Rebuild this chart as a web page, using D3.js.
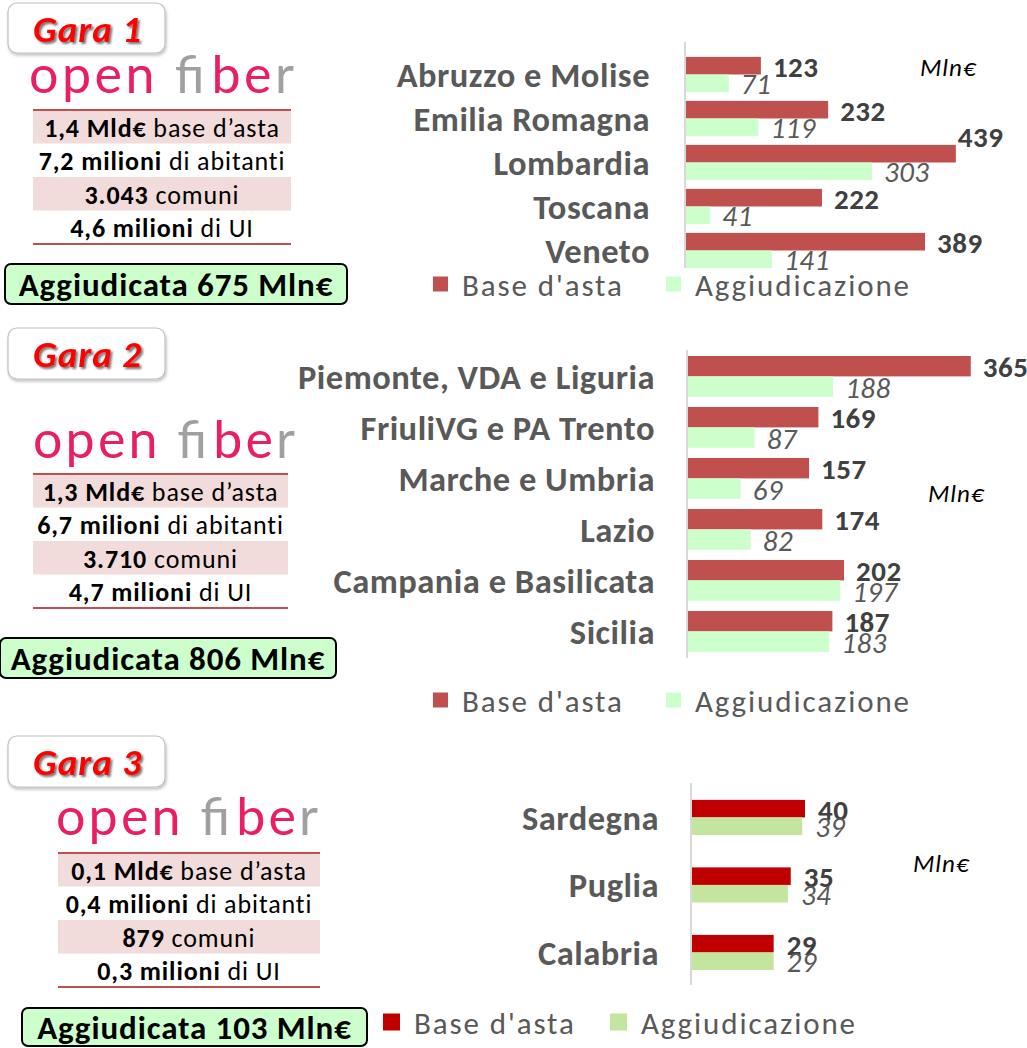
<!DOCTYPE html>
<html><head><meta charset="utf-8">
<script src="https://cdn.jsdelivr.net/npm/d3@7"></script>
<style>
html,body{margin:0;padding:0;background:#fff;}
svg{display:block;font-family:Carlito,Lato,"Noto Sans",sans-serif;}
</style></head>
<body><svg id="c" width="1027" height="1048"></svg>
<script>
// ---------- DATA ----------
const seriesNames = ["Base d'asta", "Aggiudicazione"];
const unitLabel = "Mln€";

const gara1Categories = ["Abruzzo e Molise", "Emilia Romagna", "Lombardia", "Toscana", "Veneto"];
const gara1Base = [123, 232, 439, 222, 389];
const gara1Agg = [71, 119, 303, 41, 141];

const gara2Categories = ["Piemonte, VDA e Liguria", "FriuliVG e PA Trento", "Marche e Umbria", "Lazio", "Campania e Basilicata", "Sicilia"];
const gara2Base = [365, 169, 157, 174, 202, 187];
const gara2Agg = [188, 87, 69, 82, 197, 183];

const gara3Categories = ["Sardegna", "Puglia", "Calabria"];
const gara3Base = [40, 35, 29];
const gara3Agg = [39, 34, 29];

const garaTitles = ["Gara 1", "Gara 2", "Gara 3"];
const gara1Info = [["1,4 Mld€", " base d’asta"], ["7,2 milioni", " di abitanti"], ["3.043", " comuni"], ["4,6 milioni", " di UI"]];
const gara2Info = [["1,3 Mld€", " base d’asta"], ["6,7 milioni", " di abitanti"], ["3.710", " comuni"], ["4,7 milioni", " di UI"]];
const gara3Info = [["0,1 Mld€", " base d’asta"], ["0,4 milioni", " di abitanti"], ["879", " comuni"], ["0,3 milioni", " di UI"]];
const awardedTexts = ["Aggiudicata 675 Mln€", "Aggiudicata 806 Mln€", "Aggiudicata 103 Mln€"];

// ---------- DRAW ----------
const svg = d3.select("#c");
const defs = svg.append("defs");
const f = defs.append("filter").attr("id", "tshadow").attr("x", "-20%").attr("y", "-20%").attr("width", "150%").attr("height", "150%");
f.append("feDropShadow").attr("dx", 2).attr("dy", 2).attr("stdDeviation", 1.2).attr("flood-color", "#000").attr("flood-opacity", 0.55);
const fb = defs.append("filter").attr("id", "bshadow").attr("x", "-10%").attr("y", "-10%").attr("width", "130%").attr("height", "140%");
fb.append("feDropShadow").attr("dx", 1).attr("dy", 2).attr("stdDeviation", 1.5).attr("flood-color", "#000").attr("flood-opacity", 0.25);

function garaBox(x, y, w, h, title) {
  svg.append("rect").attr("x", x).attr("y", y).attr("width", w).attr("height", h)
    .attr("rx", 9).attr("fill", "#fff").attr("stroke", "#bfbfbf").attr("stroke-width", 1.2)
    .attr("filter", "url(#bshadow)");
  svg.append("text").attr("x", x + w / 2 + 1).attr("y", y + h / 2 + 1)
    .attr("text-anchor", "middle").attr("dominant-baseline", "central")
    .attr("font-size", 37).attr("font-weight", 700).attr("font-style", "italic").attr("letter-spacing", 1)
    .attr("fill", "#ff0000").attr("filter", "url(#tshadow)").text(title);
}

function logo(x, y, w) {
  const pink = "#ea1e63", gray = "#a0a0a0";
  const parts = [["o", pink], ["p", pink], ["e", pink], ["n", pink], ["\u00a0", pink], ["f", gray], ["i", gray], ["b", pink], ["e", pink], ["r", gray]];
  const t = svg.append("text").attr("x", x).attr("y", y)
    .attr("font-family", "Lato, 'Open Sans', sans-serif").attr("font-weight", 400)
    .attr("font-size", 52).attr("textLength", w).attr("lengthAdjust", "spacing");
  parts.forEach(p => t.append("tspan").attr("fill", p[1]).text(p[0]));
}

function infoTable(x, y, w, rowH, rows) {
  rows.forEach((r, i) => {
    const ry = y + i * rowH;
    if (i % 2 === 0) svg.append("rect").attr("x", x).attr("y", ry).attr("width", w).attr("height", rowH).attr("fill", "#f2dcdb");
    const t = svg.append("text").attr("x", x + w / 2).attr("y", ry + rowH / 2 + 1)
      .attr("text-anchor", "middle").attr("dominant-baseline", "central")
      .attr("font-size", 26).attr("letter-spacing", 0.9).attr("fill", "#000");
    t.append("tspan").attr("font-weight", 700).text(r[0]);
    t.append("tspan").text(r[1]);
  });
  [y, y + rows.length * rowH].forEach(ly => svg.append("line").attr("x1", x).attr("x2", x + w)
    .attr("y1", ly).attr("y2", ly).attr("stroke", "#c0504d").attr("stroke-width", 2));
}

function awardBox(x, y, w, h, text) {
  svg.append("rect").attr("x", x).attr("y", y).attr("width", w).attr("height", h)
    .attr("rx", 6).attr("fill", "#ccffcc").attr("stroke", "#000").attr("stroke-width", 2);
  svg.append("text").attr("x", x + w / 2).attr("y", y + h / 2 + 1)
    .attr("text-anchor", "middle").attr("dominant-baseline", "central")
    .attr("font-size", 33).attr("font-weight", 700).attr("letter-spacing", 0.9).attr("fill", "#000").text(text);
}

function barChart(cfg) {
  const cats = cfg.categories;
  const y = d3.scaleBand().domain(cats).range(cfg.yRange)
    .paddingInner(cfg.padIn).paddingOuter(cfg.padOut);
  const ys = d3.scaleBand().domain([0, 1]).range([0, y.bandwidth()]);
  const x = d3.scaleLinear().domain(cfg.xDomain).range(cfg.xRange);
  const g = svg.append("g");
  const series = [cfg.base, cfg.agg];
  series.forEach((vals, si) => {
    g.selectAll(null).data(vals).enter().append("rect")
      .attr("x", x(0)).attr("y", (d, i) => y(cats[i]) + ys(si))
      .attr("width", d => x(d) - x(0)).attr("height", ys.bandwidth())
      .attr("fill", cfg.colors[si]);
  });
  // category axis (no ticks)
  const axis = d3.axisLeft(y).tickSize(0).tickPadding(cfg.labelPad);
  const ag = g.append("g").attr("transform", `translate(${x(0)},0)`).call(axis);
  ag.select(".domain").remove();
  g.append("line").attr("x1", x(0)).attr("x2", x(0)).attr("y1", cfg.axisY[0]).attr("y2", cfg.axisY[1])
    .attr("stroke", "#d9d9d9").attr("stroke-width", 2);
  ag.selectAll(".tick text").attr("font-size", cfg.catSize).attr("font-weight", 700).attr("letter-spacing", 0.5)
    .attr("fill", "#595959").attr("font-family", "Carlito, Lato, sans-serif").attr("dy", "0.36em");
  // value labels
  series.forEach((vals, si) => {
    vals.forEach((v, i) => {
      const by = y(cats[i]) + ys(si) + ys.bandwidth() / 2;
      const t = g.append("text").attr("x", x(v) + cfg.valPad).attr("y", by + 1)
        .attr("dominant-baseline", "central").attr("font-size", cfg.valSize).attr("letter-spacing", 0.5)
        .attr("font-weight", si === 0 ? 700 : 400).attr("font-style", si === 0 ? "normal" : "italic")
        .attr("fill", si === 0 ? "#404040" : "#595959").text(v);
      const w = t.node().getComputedTextLength();
      if (x(v) + cfg.valPad + w > cfg.labelLimit) {
        t.attr("x", x(v) + 2).attr("y", by + 1 - ys.bandwidth());
      }
    });
  });
  // unit label
  g.append("text").attr("x", cfg.unitPos[0]).attr("y", cfg.unitPos[1]).attr("dominant-baseline", "central")
    .attr("font-size", 25).attr("letter-spacing", 1).attr("font-style", "italic").attr("fill", "#000").text(unitLabel);
  // legend
  cfg.legend.forEach((lx, si) => {
    g.append("rect").attr("x", lx).attr("y", cfg.legendY - cfg.legSq / 2).attr("width", cfg.legSq).attr("height", cfg.legSq)
      .attr("fill", cfg.colors[si]);
    g.append("text").attr("x", lx + cfg.legSq + 14).attr("y", cfg.legendY + 1).attr("dominant-baseline", "central")
      .attr("font-size", 31).attr("letter-spacing", 1.9).attr("fill", "#595959").text(seriesNames[si]);
  });
}

// ---- Gara 1 ----
garaBox(8, 3, 157, 50, garaTitles[0]);
logo(29, 93, 265);
infoTable(33, 110, 258, 33.5, gara1Info);
awardBox(5, 264, 342, 40, awardedTexts[0]);
barChart({
  categories: gara1Categories, base: gara1Base, agg: gara1Agg,
  colors: ["#c0504d", "#ccffcc"],
  yRange: [52.5, 272.5], padIn: 0.2, padOut: 0.1,
  xDomain: [0, 500], xRange: [685, 685 + 308.5],
  axisY: [42, 268], labelPad: 35, catSize: 34.5, valSize: 29, valPad: 12, labelLimit: 1000,
  unitPos: [920, 67], legend: [433, 666], legendY: 284, legSq: 15
});

// ---- Gara 2 ----
garaBox(8, 328, 157, 51, garaTitles[1]);
logo(33, 458, 262);
infoTable(33, 474, 255, 33.5, gara2Info);
awardBox(0, 638, 336, 40, awardedTexts[1]);
barChart({
  categories: gara2Categories, base: gara2Base, agg: gara2Agg,
  colors: ["#c0504d", "#ccffcc"],
  yRange: [350.9, 656.9], padIn: 0.2, padOut: 0.1,
  xDomain: [0, 400], xRange: [687, 687 + 311],
  axisY: [350, 658], labelPad: 32, catSize: 34.5, valSize: 29, valPad: 12, labelLimit: Infinity,
  unitPos: [928, 493], legend: [433, 666], legendY: 700, legSq: 15
});

// ---- Gara 3 ----
garaBox(8, 736, 157, 51, garaTitles[2]);
logo(56, 835, 262);
infoTable(58, 853, 262, 33.5, gara3Info);
awardBox(22, 1008, 345, 38, awardedTexts[2]);
barChart({
  categories: gara3Categories, base: gara3Base, agg: gara3Agg,
  colors: ["#c00000", "#c4e59f"],
  yRange: [783, 986.9], padIn: 0.48, padOut: 0.25,
  xDomain: [0, 50], xRange: [691, 691 + 142.5],
  axisY: [783, 985], labelPad: 32, catSize: 34.5, valSize: 29, valPad: 13, labelLimit: Infinity,
  unitPos: [913, 863], legend: [383, 610], legendY: 1022, legSq: 17
});
</script></body></html>
